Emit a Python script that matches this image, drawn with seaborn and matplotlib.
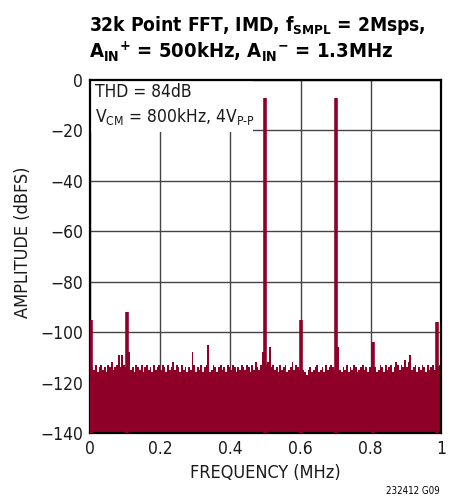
import numpy as np
import pandas as pd
import matplotlib as mpl
mpl.use("Agg")
import matplotlib.pyplot as plt
from matplotlib.patches import Rectangle
import seaborn as sb

# noise floor, one value every 5kHz (dBFS)
floor_db = [
    -113, -114, -115, -113, -116, -114, -113, -115, -114, -116, -113, -114, -112, -115, -114, -113, -109, -114, -109, -113,
    -114, -113, -108, -115, -114, -116, -113, -114, -115, -113, -116, -114, -113, -115, -114, -116, -113, -115, -114, -113,
    -115, -113, -114, -116, -113, -115, -114, -112, -115, -113, -114, -116, -113, -115, -114, -116, -114, -115, -108, -113,
    -116, -114, -115, -113, -116, -114, -113, -105, -116, -115, -113, -114, -116, -114, -113, -115, -114, -116, -113, -114,
    -115, -113, -114, -116, -114, -115, -113, -114, -115, -113, -114, -116, -113, -115, -112, -114, -115, -113, -108, -112,
    -113, -112, -106, -114, -113, -115, -114, -116, -113, -115, -114, -113, -116, -115, -114, -112, -115, -113, -114, -115,
    -114, -115, -116, -117, -115, -114, -116, -115, -114, -113, -116, -115, -114, -116, -113, -115, -114, -113, -114, -115,
    -114, -106, -115, -116, -114, -115, -113, -116, -114, -115, -113, -114, -116, -115, -114, -113, -115, -114, -116, -114,
    -115, -106, -114, -116, -115, -113, -114, -116, -113, -115, -114, -113, -116, -114, -112, -113, -115, -113, -114, -111,
    -114, -112, -109, -115, -114, -113, -116, -114, -115, -113, -114, -116, -113, -115, -114, -113, -115, -116, -114, -113,
]
floor_step = 0.005

# tones and spurs
spike_freq = [0.002, 0.105, 0.5, 0.6, 0.7, 0.806, 0.99]
spike_db = [-95, -92, -7, -95, -7, -104, -96]

xticks = [0, 0.2, 0.4, 0.6, 0.8, 1]
xticklabels = ["0", "0.2", "0.4", "0.6", "0.8", "1"]
yticks = [0, -20, -40, -60, -80, -100, -120, -140]
yticklabels = ["0", "\u221220", "\u221240", "\u221260", "\u221280", "\u2212100", "\u2212120", "\u2212140"]

RED = "#8f0029"

sb.set_style("white")
plt.rcParams['font.family'] = ["DejaVu Sans"]
plt.rcParams['font.stretch'] = 'condensed'
plt.rcParams['text.color'] = 'black'
plt.rcParams['mathtext.fontset'] = 'custom'
plt.rcParams['mathtext.rm'] = 'DejaVu Sans:stretch=condensed'
plt.rcParams['mathtext.bf'] = 'DejaVu Sans:bold:stretch=condensed'
plt.rcParams['mathtext.default'] = 'rm'

fl = pd.DataFrame({'freq': np.arange(len(floor_db)) * floor_step, 'db': floor_db})

fig = plt.figure(figsize=(4.56, 5.0), dpi=100)
ax = fig.add_axes([0.197, 0.134, 0.770, 0.706])

ax.bar(fl['freq'], fl['db'] + 140, bottom=-140, width=floor_step, align='edge',
       color=RED, linewidth=0, zorder=2)
ax.vlines(spike_freq, -140, spike_db, color=RED, linewidth=2.6, zorder=3)

ax.set_xlim(0, 1)
ax.set_ylim(-140, 0)
ax.set_xticks(xticks)
ax.set_xticklabels(xticklabels)
ax.set_yticks(yticks)
ax.set_yticklabels(yticklabels)
ax.tick_params(axis='both', length=0, labelsize=12.5, pad=5, colors='#1a1a1a')
ax.set_axisbelow(True)
ax.grid(True, color='#444444', linewidth=1.0)
for s in ax.spines.values():
    s.set_color('black')
    s.set_linewidth(1.6)

# white box behind the notes hides the grid there
ax.add_patch(Rectangle((0, -20.7), 0.465, 20.7, facecolor='white', edgecolor='none', zorder=1))
ax.text(0.016, -4.6, "THD = 84dB", fontsize=12.5, va='center', ha='left', zorder=4, color='#1a1a1a')
ax.text(0.016, -14.6, "V$_{\\mathrm{CM}}$ = 800kHz, 4V$_{\\mathrm{P\u2010P}}$", fontsize=12.5,
        va='center', ha='left', zorder=4, color='#1a1a1a')

ax.set_xlabel("FREQUENCY (MHz)", fontsize=13, labelpad=4, color='#1a1a1a')
ax.set_ylabel("AMPLITUDE (dBFS)", fontsize=13, color='#1a1a1a')
ax.yaxis.set_label_coords(-0.165, 0.54)

fig.text(0.195, 0.938, r"32k Point FFT, IMD, f$_{\mathbf{SMPL}}$ = 2Msps,", fontsize=13.8,
         fontweight='bold', ha='left', va='baseline')
fig.text(0.195, 0.884, r"A$_{\mathbf{IN}}$$^{\mathbf{+}}$ = 500kHz, A$_{\mathbf{IN}}$$^{\mathbf{-}}$ = 1.3MHz",
         fontsize=14.5, fontweight='bold', ha='left', va='baseline')
fig.text(0.965, 0.012, "232412 G09", fontsize=7, ha='right', va='baseline')

fig.savefig("out.png", dpi=100)
